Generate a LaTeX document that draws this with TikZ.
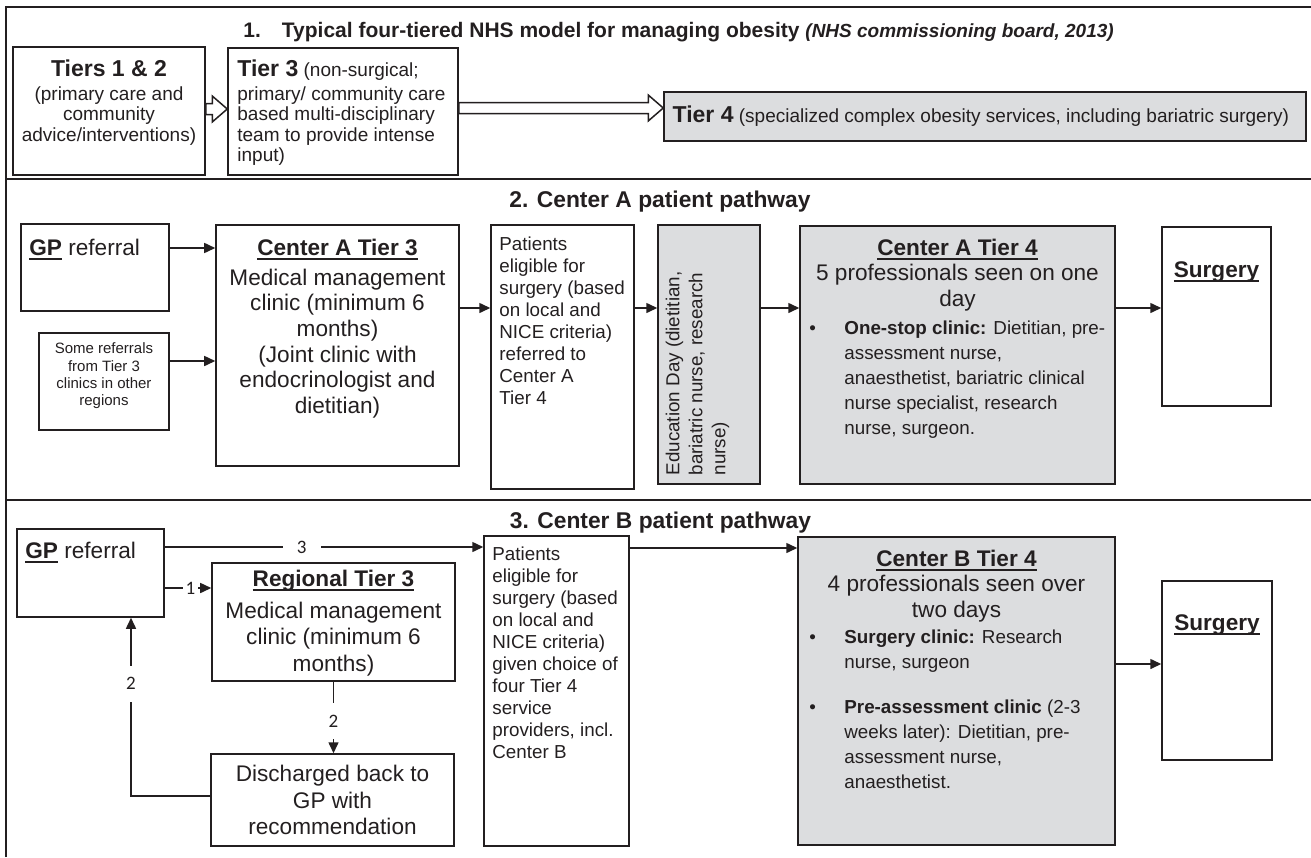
\documentclass[tikz,border=0pt]{standalone}
\usepackage{fontspec}
\setmainfont{Liberation Sans}
\newfontfamily\carlito{Carlito}
\usepackage{tikz}
\usetikzlibrary{calc,arrows.meta}
\usetikzlibrary{positioning}
\usepackage{xcolor}
\definecolor{ink}{HTML}{231F20}
\definecolor{boxgrey}{HTML}{DCDDDF}
\newcommand{\fhead}{\fontsize{11.5bp}{13.5bp}\selectfont}
\newcommand{\fone}{\fontsize{9.5bp}{10.3bp}\selectfont}
\newcommand{\fbig}{\fontsize{11.3bp}{12.8bp}\selectfont}
\newcommand{\fmid}{\fontsize{9.4bp}{11bp}\selectfont}
\newcommand{\flist}{\fontsize{9.4bp}{12.5bp}\selectfont}
\newcommand{\fsmall}{\fontsize{7.5bp}{8.7bp}\selectfont}
\newcommand{\ftitle}{\fontsize{11.4bp}{13bp}\selectfont\bfseries}
\newcommand{\bul}{\makebox[17.5bp][l]{\textbullet}}
\newcommand{\ind}{\hspace*{17.5bp}}
% thick underline
\newcommand{\uln}[1]{\setbox0\hbox{#1}\rlap{\rule[-2.3bp]{\wd0}{1bp}}\box0\relax}
\tikzstyle{flow}=[
  x=0.5bp, y=-0.5bp, line join=miter, text=ink
]
\tikzstyle{frame}=[
  draw=ink, line width=1.1bp
]
\tikzstyle{box}=[
  draw=ink, line width=0.75bp, inner sep=0pt
]
\tikzstyle{greybox}=[
  box, fill=boxgrey
]
\tikzstyle{txt}=[
  inner sep=0pt, text=ink
]
\tikzstyle{arr}=[
  draw=ink, line width=0.75bp, -{Triangle[length=5.5bp,width=5bp]}
]
\tikzstyle{blockarr}=[
  draw=ink, line width=0.75bp, fill=white
]
\tikzstyle{lbl}=[
  fill=white, inner sep=1.5bp, text=ink, font=\carlito\fontsize{9.5bp}{11bp}\selectfont
]
% open block arrow between two points at the same height
\newcommand{\blockarrow}[2]{%
  \draw[blockarr] ($(#1)+(0bp,2.75bp)$) -- ($(#2)+(-7.5bp,2.75bp)$)
    -- ($(#2)+(-7.5bp,6.5bp)$) -- (#2) -- ($(#2)+(-7.5bp,-6.5bp)$)
    -- ($(#2)+(-7.5bp,-2.75bp)$) -- ($(#1)+(0bp,-2.75bp)$) -- cycle;}

\begin{document}
\begin{tikzpicture}[flow]
    \useasboundingbox (0,0) rectangle (1311,857);
    \draw[frame] (6,857) -- (6,7) -- (1311,7);
    \draw[frame] (6,179) -- (1311,179);
    \draw[frame] (6,500) -- (1311,500);

    % 1. four tiers
    \node (title1) at (243,37) [txt, anchor=base west, font=\fontsize{10.5bp}{12bp}\selectfont\bfseries]
      {1.\hspace{1em}Typical four-tiered NHS model for managing obesity
       {\fontsize{9.5bp}{11bp}\selectfont\itshape (NHS commissioning board, 2013)}};
    \node (t12) at (109,111) [box, minimum width=96bp, minimum height=64bp] {};
    \node (t3) at (343,111.5) [box, minimum width=115bp, minimum height=63.5bp] {};
    \node (t4) at (985,116.5) [greybox, minimum width=321bp, minimum height=24.5bp] {};
    \node (t12txt) at (109,59.5) [txt, anchor=north, align=center, font=\fone]
      {{\fhead\bfseries Tiers 1 \& 2}\\[1.5bp](primary care and\\community\\advice/interventions)};
    \node (t3txt) at (237,59.5) [txt, anchor=north west, align=left, font=\fone]
      {{\fhead\bfseries Tier 3} (non-surgical;\\[1.5bp]primary/ community care\\based multi-disciplinary\\team to provide intense\\input)};
    \node (t4txt) at ([xshift=4.5bp]t4.west) [txt, anchor=west, font=\fone]
      {{\fhead\bfseries Tier 4} (specialized complex obesity services, including bariatric surgery)};
    \coordinate (b1) at ([yshift=1bp]t12.east);
    \coordinate (b1e) at (b1 -| t3.west);
    \coordinate (b2) at ([yshift=1.75bp]t3.east);
    \coordinate (b2e) at (b2 -| t4.west);
    \blockarrow{b1}{b1e}
    \blockarrow{b2}{b2e}

    % 2. Center A
    \node (title2) at (660,202) [txt, font=\ftitle] {2. Center A patient pathway};
    \node (gpA) at (95,267.5) [box, minimum width=74bp, minimum height=43.5bp] {};
    \node (someA) at (104,381.5) [box, minimum width=65bp, minimum height=48.5bp] {};
    \node (ca3) at (337.5,345.5) [box, minimum width=121.5bp, minimum height=120.5bp] {};
    \node (patA) at (562.5,357) [box, minimum width=71.5bp, minimum height=132bp] {};
    \node (eduA) at (709,354.5) [greybox, minimum width=51bp, minimum height=129.5bp] {};
    \node (ca4) at (957.5,355) [greybox, minimum width=157.5bp, minimum height=129bp] {};
    \node (surgA) at (1216.5,316.5) [box, minimum width=54.5bp, minimum height=89.5bp] {};

    \node (gpAtxt) at (29,238.6) [txt, anchor=north west, font=\fbig]
      {\uln{\textbf{GP}} referral};
    \node (someAtxt) at ([yshift=2.75bp]someA.center) [txt, align=center, font=\fsmall]
      {Some referrals\\from Tier 3\\clinics in other\\regions};
    \node (ca3txt) at (337.5,238.6) [txt, anchor=north, align=center, font=\fbig]
      {\uln{\textbf{Center A Tier 3}}\\[2.2bp]Medical management\\clinic (minimum 6\\months)\\(Joint clinic with\\endocrinologist and\\dietitian)};
    \node (patAtxt) at (499,236) [txt, anchor=north west, align=left, font=\fmid]
      {Patients\\eligible for\\surgery (based\\on local and\\NICE criteria)\\referred to\\Center A\\Tier 4};
    \node (eduAtxt) at ([xshift=4bp,yshift=4.5bp]eduA.south west) [txt, rotate=90, anchor=north west, align=left, font=\fontsize{9.4bp}{11.5bp}\selectfont]
      {Education Day (dietitian,\\bariatric nurse, research\\nurse)};
    \node (ca4head) at (957.5,238.6) [txt, anchor=north, align=center, font=\fbig]
      {\uln{\textbf{Center A Tier 4}}\\5 professionals seen on one\\day};
    \node (ca4list) at (809,320) [txt, anchor=north west, align=left, font=\flist]
      {\bul\textbf{One-stop clinic:} Dietitian, pre-\\
       \ind assessment nurse,\\
       \ind anaesthetist, bariatric clinical\\
       \ind nurse specialist, research\\
       \ind nurse, surgeon.};
    \node (surgAtxt) at (1216.5,261.5) [txt, anchor=north, font=\fbig] {\uln{\textbf{Surgery}}};

    \coordinate (a1) at ([yshift=9.75bp]gpA.east);
    \coordinate (a2) at ([yshift=10.25bp]someA.east);
    \coordinate (a3) at ([yshift=18.75bp]ca3.east);
    \draw[arr] (a1) -- (a1 -| ca3.west);
    \draw[arr] (a2) -- (a2 -| ca3.west);
    \draw[arr] (a3) -- (a3 -| patA.west);
    \draw[arr] (patA.east |- a3) -- (eduA.west |- a3);
    \draw[arr] (eduA.east |- a3) -- (ca4.west |- a3);
    \draw[arr] (ca4.east |- a3) -- (surgA.west |- a3);

    % 3. Center B
    \node (title3) at (660.5,523) [txt, font=\ftitle] {3. Center B patient pathway};
    \node (gpB) at (90.5,573) [box, minimum width=73.5bp, minimum height=44bp] {};
    \node (rt3) at (333.5,622) [box, minimum width=121.5bp, minimum height=59bp] {};
    \node (dis) at (332.5,800) [box, minimum width=121.5bp, minimum height=46bp] {};
    \node (patB) at (556.5,691) [box, minimum width=72.5bp, minimum height=155bp] {};
    \node (cb4) at (956.5,691) [greybox, minimum width=158.5bp, minimum height=154bp] {};
    \node (surgB) at (1217,670.5) [box, minimum width=55bp, minimum height=89.5bp] {};

    \node (gpBtxt) at (25,541.6) [txt, anchor=north west, font=\fbig]
      {\uln{\textbf{GP}} referral};
    \node (rt3txt) at (333.5,569.6) [txt, anchor=north, align=center, font=\fontsize{11.3bp}{13.3bp}\selectfont]
      {\uln{\textbf{Regional Tier 3}}\\[2.7bp]Medical management\\clinic (minimum 6\\months)};
    \node (distxt) at (dis.center) [txt, align=center, font=\fontsize{11.3bp}{13.3bp}\selectfont]
      {Discharged back to\\GP with\\recommendation};
    \node (patBtxt) at (492,546) [txt, anchor=north west, align=left, font=\fmid]
      {Patients\\eligible for\\surgery (based\\on local and\\NICE criteria)\\given choice of\\four Tier 4\\service\\providers, incl.\\Center B};
    \node (cb4head) at (956.5,549.6) [txt, anchor=north, align=center, font=\fbig]
      {\uln{\textbf{Center B Tier 4}}\\4 professionals seen over\\two days};
    \node (cb4list) at (809,629) [txt, anchor=north west, align=left, font=\flist]
      {\bul\textbf{Surgery clinic:} Research\\
       \ind nurse, surgeon\\[10bp]
       \bul\textbf{Pre-assessment clinic} (2-3\\
       \ind weeks later): Dietitian, pre-\\
       \ind assessment nurse,\\
       \ind anaesthetist.};
    \node (surgBtxt) at (1217,614.6) [txt, anchor=north, font=\fbig] {\uln{\textbf{Surgery}}};

    \coordinate (g3) at ([yshift=13bp]gpB.east);
    \coordinate (g1) at ([yshift=-7.5bp]gpB.east);
    \coordinate (p1) at ([yshift=71.5bp]patB.east);
    \coordinate (c1) at ([yshift=13.5bp]cb4.east);
    \draw[arr] (g3) -- node[lbl, inner xsep=7bp, pos=0.43] {3} (g3 -| patB.west);
    \draw[arr] (g1) -- node[lbl, pos=0.55] {1} (g1 -| rt3.west);
    \draw[arr] (rt3.south) -- node[lbl, inner ysep=6bp, pos=0.55] {2} (rt3.south |- dis.north);
    \draw[arr] ([yshift=2bp]dis.west) -| node[lbl, inner ysep=6bp, pos=0.815] {2} ([xshift=20.25bp]gpB.south);
    \draw[arr] (p1) -- (p1 -| cb4.west);
    \draw[arr] (c1) -- (c1 -| surgB.west);
\end{tikzpicture}
\end{document}
